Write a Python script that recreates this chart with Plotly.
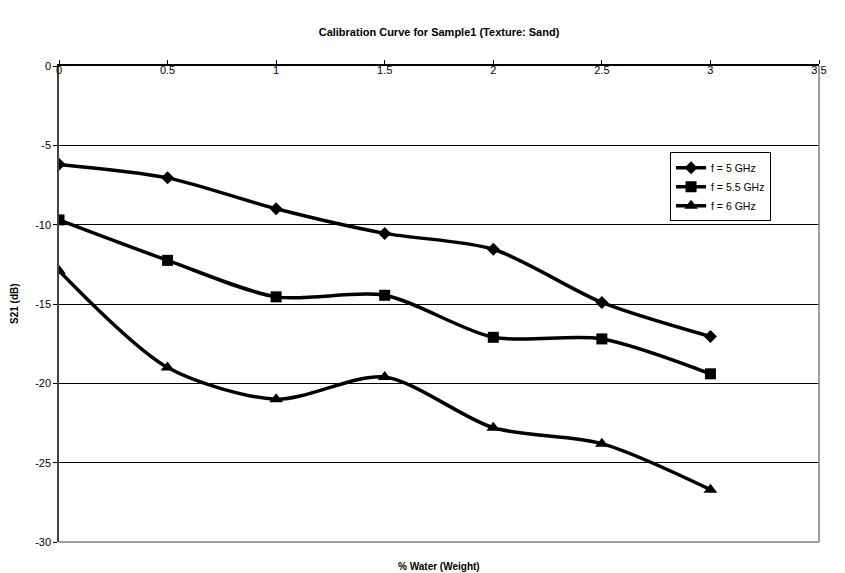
import plotly.graph_objects as go

water = [0, 0.5, 1, 1.5, 2, 2.5, 3]
s21_5ghz = [-6.2, -7.05, -9.0, -10.55, -11.55, -14.9, -17.05]
s21_55ghz = [-9.7, -12.25, -14.55, -14.45, -17.1, -17.2, -19.4]
s21_6ghz = [-12.9, -19.0, -21.0, -19.6, -22.8, -23.8, -26.7]
series_names = ["f = 5 GHz", "f = 5.5 GHz", "f = 6 GHz"]
x_ticks = [0, 0.5, 1, 1.5, 2, 2.5, 3, 3.5]
y_ticks = [0, -5, -10, -15, -20, -25, -30]

FONT = "Liberation Sans, Arial, sans-serif"

fig = go.Figure()
markers = [("diamond", 10), ("square", 11), ("triangle-up", 12)]
for name, ys, (sym, sz) in zip(series_names, [s21_5ghz, s21_55ghz, s21_6ghz], markers):
    fig.add_trace(go.Scatter(
        x=water, y=ys, name=name, mode="lines+markers",
        line=dict(color="black", width=3.5, shape="spline", smoothing=0.8),
        marker=dict(symbol=sym, size=sz, color="black"),
    ))

fig.update_layout(
    width=845, height=573,
    margin=dict(l=59, r=26, t=66, b=31),
    paper_bgcolor="white", plot_bgcolor="white",
    font=dict(family=FONT, size=11, color="black"),
    title=dict(text="<b>Calibration Curve for Sample1 (Texture: Sand)</b>",
               x=0.5, xref="paper", y=1 - 32 / 573, yref="container",
               yanchor="middle", xanchor="center",
               font=dict(family=FONT, size=11, color="black")),
    showlegend=True,
    legend=dict(x=0.804, y=0.819, xanchor="left", yanchor="top",
                bordercolor="black", borderwidth=1, bgcolor="white",
                font=dict(family=FONT, size=10.5, color="black"),
                tracegroupgap=0, itemwidth=30),
    xaxis=dict(range=[0, 3.5], tickvals=x_ticks, ticktext=[str(v) for v in x_ticks],
               side="top", ticklabelposition="inside", ticklabeloverflow="allow",
               ticks="outside", ticklen=4,
               tickcolor="black", showline=True, linecolor="black", linewidth=1.5,
               showgrid=False, zeroline=False, fixedrange=True,
               tickfont=dict(family=FONT, size=11, color="black")),
    yaxis=dict(range=[-30, 0], tickvals=y_ticks, ticktext=[str(v) for v in y_ticks],
               ticks="outside", ticklen=4, tickcolor="black", ticklabeloverflow="allow",
               showline=True, linecolor="#444", linewidth=1.5,
               showgrid=True, gridcolor="black", gridwidth=1, zeroline=False,
               tickfont=dict(family=FONT, size=11, color="black")),
    annotations=[
        dict(text="<b>% Water (Weight)</b>", xref="paper", yref="paper",
             x=0.5, y=(542 - 566) / 476, xanchor="center", yanchor="middle",
             showarrow=False, font=dict(family=FONT, size=10, color="black")),
        dict(text="<b>S21 (dB)</b>", xref="paper", yref="paper",
             x=(14 - 59) / 760, y=0.5, xanchor="center", yanchor="middle",
             textangle=-90, showarrow=False,
             font=dict(family=FONT, size=10, color="black")),
    ],
    shapes=[
        dict(type="line", xref="paper", yref="paper", x0=1, x1=1, y0=0, y1=1,
             line=dict(color="#808080", width=1.5)),
        dict(type="line", xref="paper", yref="paper", x0=0, x1=1, y0=0, y1=0,
             line=dict(color="#808080", width=1.5)),
    ],
)

fig.write_html("out.html")
